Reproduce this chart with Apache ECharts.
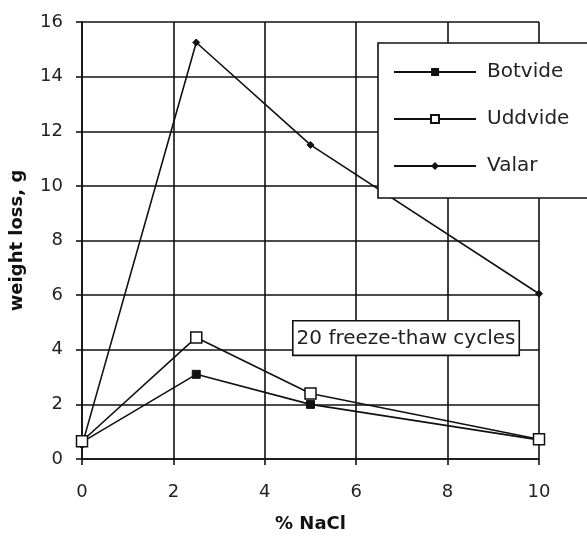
<!DOCTYPE html>
<html>
<head>
<meta charset="utf-8">
<script src="https://cdn.jsdelivr.net/npm/echarts@6/dist/echarts.min.js"></script>
<style>
  html, body { margin: 0; padding: 0; background: #ffffff; }
  #chart { width: 587px; height: 538px; }
</style>
</head>
<body>
<div id="chart"></div>
<script>
// data
const nacl = [0, 2.5, 5, 10]
const botvide = [0.62, 3.1, 2.0, 0.7]
const uddvide = [0.65, 4.45, 2.4, 0.72]
const valar = [0.5, 15.25, 11.5, 6.05]
const seriesNames = ['Botvide', 'Uddvide', 'Valar']
const note = '20 freeze-thaw cycles'

const FONT = 'DejaVu Sans'
const chart = echarts.init(document.getElementById('chart'))

const pairs = (ys) => nacl.map((x, i) => [x, ys[i]])

const lineStyle = { color: '#111', width: 1.6 }

chart.setOption({
  animation: false,
  textStyle: { fontFamily: FONT, color: '#222' },
  grid: { left: 82, right: 48, top: 22, bottom: 76 },
  xAxis: {
    type: 'value',
    min: 0,
    max: 10,
    interval: 2,
    name: '% NaCl',
    nameLocation: 'middle',
    nameGap: 56,
    nameTextStyle: { fontWeight: 'bold', fontSize: 18, color: '#111' },
    axisLine: { show: true, lineStyle: { color: '#111', width: 1.6 } },
    axisTick: { show: true, length: 6, lineStyle: { color: '#111', width: 1.6 } },
    axisLabel: { fontSize: 18, color: '#222', margin: 24 },
    splitLine: { show: true, lineStyle: { color: '#111', width: 1.6 } },
  },
  yAxis: {
    type: 'value',
    min: 0,
    max: 16,
    interval: 2,
    name: 'weight loss, g',
    nameLocation: 'middle',
    nameGap: 56,
    nameTextStyle: { fontWeight: 'bold', fontSize: 18, color: '#111' },
    axisLine: { show: true, lineStyle: { color: '#111', width: 1.6 } },
    axisTick: { show: true, length: 6, lineStyle: { color: '#111', width: 1.6 } },
    axisLabel: { fontSize: 18, color: '#222', margin: 19 },
    splitLine: { show: true, lineStyle: { color: '#111', width: 1.6 } },
  },
  legend: {
    orient: 'vertical',
    left: 378,
    top: 43,
    width: 210,
    padding: [19, 40, 22, 15],
    itemGap: 27,
    itemWidth: 82,
    itemHeight: 10,
    backgroundColor: '#fff',
    borderColor: '#111',
    borderWidth: 1.6,
    textStyle: { fontSize: 20, color: '#222', fontFamily: FONT, padding: [0, 0, 0, 6] },
    data: seriesNames,
  },
  series: [
    {
      name: seriesNames[0],
      type: 'line',
      data: pairs(botvide),
      symbol: 'rect',
      symbolSize: 8,
      itemStyle: { color: '#111', borderColor: '#111' },
      lineStyle: lineStyle,
      z: 3,
    },
    {
      name: seriesNames[1],
      type: 'line',
      data: pairs(uddvide),
      symbol: 'rect',
      symbolSize: 11,
      itemStyle: { color: '#fff', borderColor: '#111', borderWidth: 1.5 },
      lineStyle: lineStyle,
      z: 4,
    },
    {
      name: seriesNames[2],
      type: 'line',
      data: pairs(valar),
      symbol: 'diamond',
      symbolSize: 7,
      itemStyle: { color: '#111', borderColor: '#111' },
      lineStyle: lineStyle,
      z: 2,
    },
  ],
  graphic: [
    {
      type: 'text',
      left: 292,
      top: 320,
      z: 10,
      style: {
        text: note,
        fontFamily: FONT,
        fontSize: 20,
        fill: '#222',
        backgroundColor: '#fff',
        borderColor: '#111',
        borderWidth: 1.6,
        padding: [7, 3, 6, 3],
      },
    },
  ],
})
</script>
</body>
</html>
